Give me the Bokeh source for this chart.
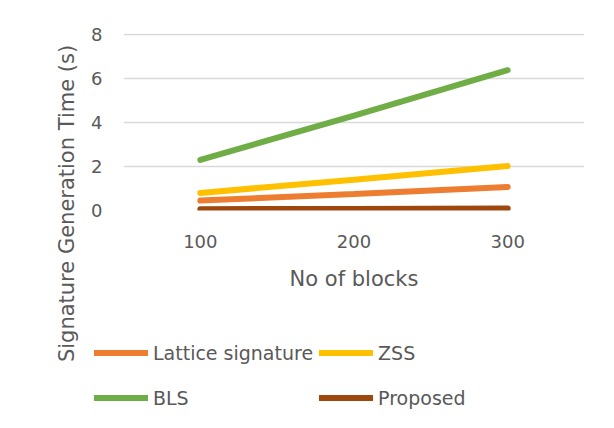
import math
from bokeh.plotting import figure
from bokeh.models import Legend, LegendItem, Label, Range1d, FixedTicker
from bokeh.layouts import row, column
from bokeh.embed import file_html
from bokeh.resources import INLINE

# ---- data ----
blocks = [100, 200, 300]
lattice = [0.45, 0.75, 1.07]
zss = [0.80, 1.40, 2.02]
bls = [2.30, 4.32, 6.38]
proposed = [0.06, 0.07, 0.09]
series_names = ["Lattice signature", "ZSS", "BLS", "Proposed"]
series_values = [lattice, zss, bls, proposed]
colors = ["#ED7D31", "#FFC000", "#70AD47", "#9E480E"]
legend_order = [0, 2, 1, 3]   # column-major fill -> rows: Lattice/ZSS, BLS/Proposed
y_ticks = [0, 2, 4, 6, 8]
x_ticks = [100, 200, 300]
y_title = "Signature Generation Time (s)"
x_title = "No of blocks"

FONT = "DejaVu Sans"
TXT = "#595959"

# ---- main chart ----
p = figure(width=518, height=300, output_backend="svg", toolbar_location=None,
           x_range=Range1d(50, 350), y_range=Range1d(0, 8.05),
           min_border_left=35, min_border_right=22, min_border_top=33,
           min_border_bottom=90)
p.frame_align = False
p.outline_line_color = None

renderers = []
for vals, col in zip(series_values, colors):
    renderers.append(p.line(blocks, vals, line_color=col, line_width=6, line_cap="round"))

p.xaxis.ticker = FixedTicker(ticks=x_ticks)
p.yaxis.ticker = FixedTicker(ticks=y_ticks)
for ax in (p.xaxis[0], p.yaxis[0]):
    ax.axis_line_color = None
    ax.major_tick_line_color = None
    ax.minor_tick_line_color = None
    ax.major_tick_out = 0
    ax.major_tick_in = 0
    ax.minor_tick_out = 0
    ax.minor_tick_in = 0
    ax.major_label_text_font = FONT
    ax.major_label_text_font_size = "18px"
    ax.major_label_text_color = TXT
p.yaxis.major_label_standoff = 21
p.xaxis.major_label_standoff = 24
p.xaxis.axis_label = x_title
p.xaxis.axis_label_text_font = FONT
p.xaxis.axis_label_text_font_size = "21px"
p.xaxis.axis_label_text_font_style = "normal"
p.xaxis.axis_label_text_color = TXT
p.xaxis.axis_label_standoff = 16

p.xgrid.grid_line_color = None
p.ygrid.grid_line_color = "#D9D9D9"
p.ygrid.grid_line_width = 1.5

# ---- left strip carrying the vertical title ----
left = figure(width=88, height=420, output_backend="svg", toolbar_location=None,
              x_range=Range1d(0, 88), y_range=Range1d(0, 420),
              x_axis_type=None, y_axis_type=None, min_border=0)
left.frame_align = False
left.outline_line_color = None
left.add_layout(Label(x=66, y=217, text=y_title, angle=math.pi / 2,
                      text_align="center", text_baseline="middle", text_font=FONT,
                      text_font_size="21px", text_color=TXT))

# ---- legend strip ----
leg = figure(width=518, height=120, output_backend="svg", toolbar_location=None,
             x_range=Range1d(0, 518), y_range=Range1d(1000, 1120),
             x_axis_type=None, y_axis_type=None, min_border=0)
leg.frame_align = False
leg.outline_line_color = None
leg_renderers = []
for vals, col in zip(series_values, colors):
    leg_renderers.append(leg.line(blocks, vals, line_color=col, line_width=6, line_cap="round"))
items = [LegendItem(label=series_names[i], renderers=[leg_renderers[i]]) for i in legend_order]
legend = Legend(items=items, ncols=2, location=(6, 3),
                glyph_width=54, glyph_height=39, label_height=39, spacing=6,
                label_standoff=5, padding=0, margin=0,
                border_line_color=None, background_fill_alpha=0,
                label_text_font=FONT, label_text_font_size="19px", label_text_color=TXT)
leg.add_layout(legend)

layout = row(left, column(p, leg))
open("out.html", "w").write(file_html(layout, INLINE))
